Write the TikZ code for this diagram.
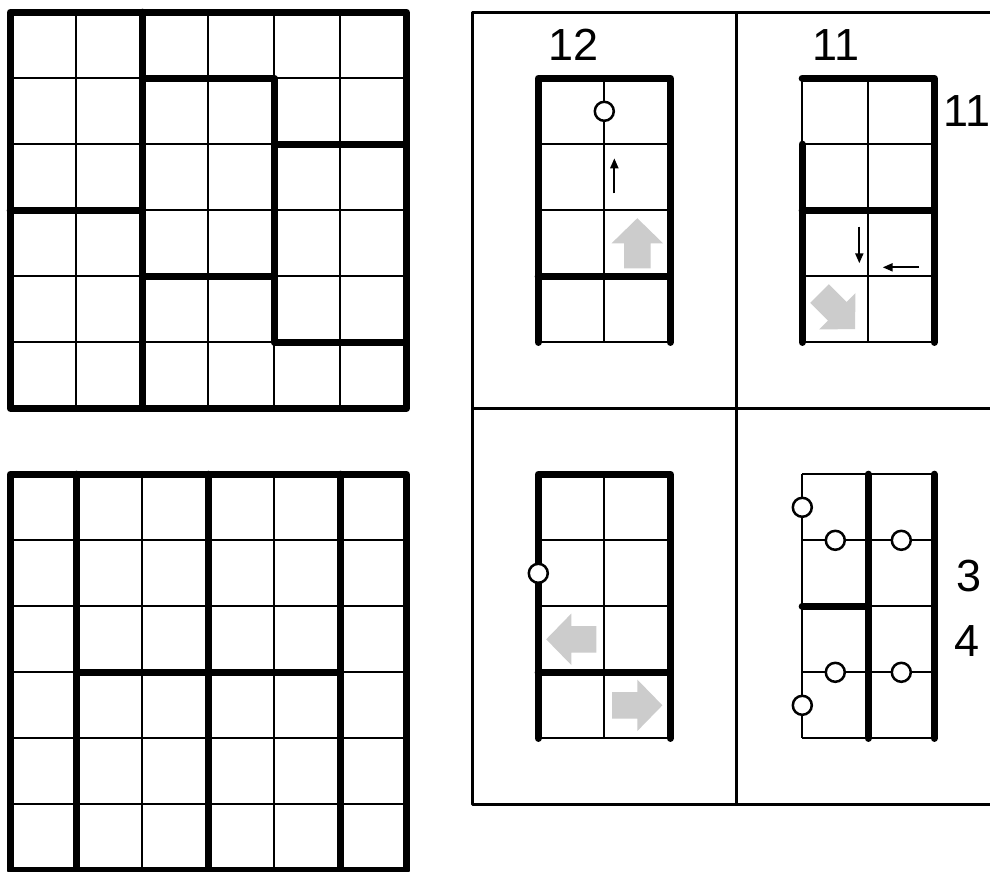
\documentclass[tikz,border=0pt]{standalone}
\usepackage{fontspec}
\setmainfont{Liberation Sans}
\usetikzlibrary{arrows.meta}
\definecolor{arrowgray}{RGB}{204,204,204}
\tikzset{
  thinln/.style={line width=2pt, black},
  thickln/.style={line width=7.3pt, black, line cap=round, line join=round},
  borderln/.style={line width=3.6pt, black, line join=round},
  circ/.style={circle, draw=black, fill=white, line width=2.5pt, minimum size=19pt, inner sep=0pt},
  smallarr/.style={line width=2pt, -{Triangle[length=10pt,width=8pt]}},
  lbl/.style={inner sep=0pt, font=\fontsize{45pt}{54pt}\selectfont},
  bigarrow/.pic={
    \fill[arrowgray] (-0.38,-0.2) -- (0,-0.2) -- (0,-0.39) -- (0.38,0) -- (0,0.39) -- (0,0.2) -- (-0.38,0.2) -- cycle;
  }
}
\begin{document}
\begin{tikzpicture}[x=66pt,y=-66pt]
\useasboundingbox (-0.15606,-0.18636) rectangle (14.8439,13.0106);
\fill[white] (-0.15606,-0.18636) rectangle (14.8439,13.0106);

% ---------- top-left grid ----------
\foreach \i in {0,...,6} {
  \draw[thinln] (\i,0) -- (\i,6);
  \draw[thinln] (0,\i) -- (6,\i);
}
\draw[thickln] (0,0) rectangle (6,6);
\draw[thickln] (2,0) -- (2,6);
\draw[thickln] (0,3) -- (2,3);
\draw[thickln] (2,1) -- (4,1) -- (4,5) -- (6,5);
\draw[thickln] (4,2) -- (6,2);
\draw[thickln] (2,4) -- (4,4);

% ---------- bottom-left grid ----------
\foreach \i in {0,...,6} {
  \draw[thinln] (\i,7) -- (\i,13);
}
\foreach \j in {7,...,13} {
  \draw[thinln] (0,\j) -- (6,\j);
}
\draw[thickln] (0,7) rectangle (6,13);
\draw[thickln] (1,7) -- (1,13);
\draw[thickln] (3,7) -- (3,13);
\draw[thickln] (5,7) -- (5,13);
\draw[thickln] (1,10) -- (5,10);

% ---------- right panel frame ----------
\draw[borderln] (7,0) rectangle (15,12);
\draw[borderln] (7,6) -- (15,6);
\draw[borderln] (11,0) -- (11,12);

% ---------- small grids: thin lines ----------
\foreach \cx/\ry in {8/1, 12/1, 8/7, 12/7} {
  \foreach \k in {0,1,2} {
    \draw[thinln] (\cx+\k,\ry) -- (\cx+\k,\ry+4);
  }
  \foreach \k in {0,...,4} {
    \draw[thinln] (\cx,\ry+\k) -- (\cx+2,\ry+\k);
  }
}

% ---------- gray arrows ----------
\pic[rotate=90] at (9.5,3.5) {bigarrow};
\pic[rotate=-45] at (12.53,4.53) {bigarrow};
\pic[rotate=180] at (8.5,9.5) {bigarrow};
\pic at (9.5,10.5) {bigarrow};

% ---------- panel TL ----------
\draw[thickln] (8,5) -- (8,1) -- (10,1) -- (10,5);
\draw[thickln] (8,4) -- (10,4);
\node[lbl] (l12) at (8.53,0.495) {12};
\node[circ] (c1) at (9,1.5) {};
\coordinate (ua1) at (9.152,2.742);
\coordinate (ua2) at (9.152,2.212);
\draw[smallarr] (ua1) -- (ua2);

% ---------- panel TR ----------
\draw[thickln] (12,1) -- (14,1) -- (14,5);
\draw[thickln] (12,2) -- (12,5);
\draw[thickln] (12,3) -- (14,3);
\node[lbl] (l11a) at (12.51,0.495) {11};
\node[lbl] (l11b) at (14.50,1.49) {11};
\coordinate (da1) at (12.864,3.248);
\coordinate (da2) at (12.864,3.803);
\draw[smallarr] (da1) -- (da2);
\coordinate (la1) at (13.768,3.864);
\coordinate (la2) at (13.218,3.864);
\draw[smallarr] (la1) -- (la2);

% ---------- panel BL ----------
\draw[thickln] (8,11) -- (8,7) -- (10,7) -- (10,11);
\draw[thickln] (8,10) -- (10,10);
\node[circ] (c2) at (8,8.5) {};

% ---------- panel BR ----------
\draw[thickln] (13,7) -- (13,11);
\draw[thickln] (14,7) -- (14,11);
\draw[thickln] (12,9) -- (13,9);
\node[circ] (c3) at (12,7.5) {};
\node[circ] (c4) at (12.5,8) {};
\node[circ] (c5) at (13.5,8) {};
\node[circ] (c6) at (12.5,10) {};
\node[circ] (c7) at (13.5,10) {};
\node[circ] (c8) at (12,10.5) {};
\node[lbl] (l3) at (14.52,8.54) {3};
\node[lbl] (l4) at (14.5,9.52) {4};
\end{tikzpicture}
\end{document}
